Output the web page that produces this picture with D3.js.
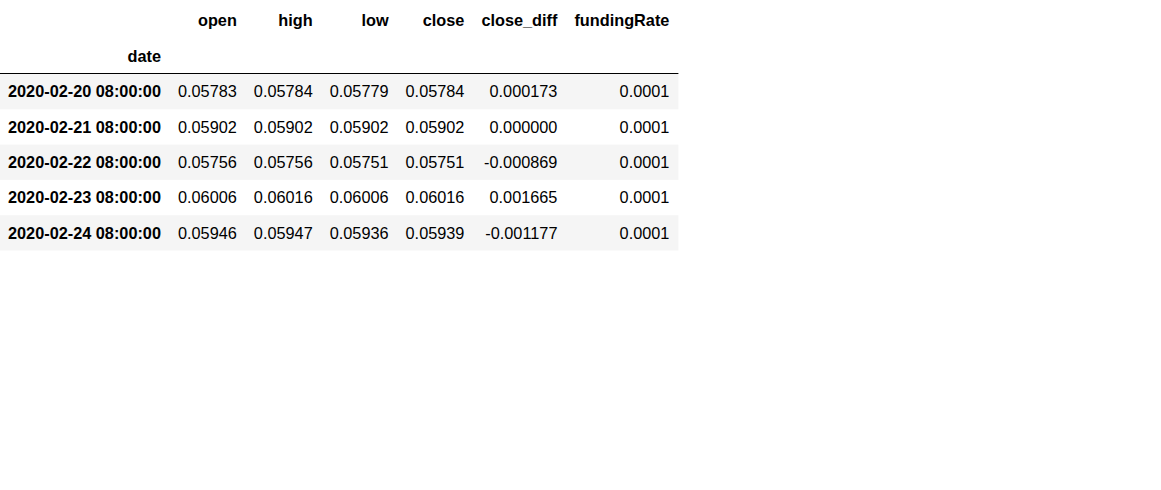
<!DOCTYPE html>
<html>
<head>
<meta charset="utf-8">
<script src="https://cdn.jsdelivr.net/npm/d3@7"></script>
<style>
  body { margin: 0; background: #fff; }
  text { font-family: "Liberation Sans", Arial, sans-serif; font-size: 16.3px; fill: #000; }
  .bold { font-weight: bold; }
</style>
</head>
<body>
<div id="chart-container"></div>
<script>
// --- Data ---
const columns = ["open", "high", "low", "close", "close_diff", "fundingRate"];
const indexName = "date";
const dates = ["2020-02-20 08:00:00", "2020-02-21 08:00:00", "2020-02-22 08:00:00",
               "2020-02-23 08:00:00", "2020-02-24 08:00:00"];
const open = [0.05783, 0.05902, 0.05756, 0.06006, 0.05946];
const high = [0.05784, 0.05902, 0.05756, 0.06016, 0.05947];
const low = [0.05779, 0.05902, 0.05751, 0.06006, 0.05936];
const close = [0.05784, 0.05902, 0.05751, 0.06016, 0.05939];
const closeDiff = [0.000173, 0.000000, -0.000869, 0.001665, -0.001177];
const fundingRate = [0.0001, 0.0001, 0.0001, 0.0001, 0.0001];

// --- Configuration ---
const width = 1161, height = 490;
const padLeft = 8, gap = 17;
const headerTop = 2, headerH = 74, rowH = 35.3;

const series = [open, high, low, close, closeDiff, fundingRate];
const formats = [".5f", ".5f", ".5f", ".5f", ".6f", ".4f"].map(f => d3.format(f));
const fmtCell = (c, v) => formats[c](v).replace("−", "-");

const svg = d3.select("#chart-container")
    .append("svg")
    .attr("width", width)
    .attr("height", height);

// measure text widths to lay the columns out like an html table
const probe = svg.append("g");
function textWidth(s, bold) {
    const t = probe.append("text").attr("class", bold ? "bold" : null).text(s);
    const w = t.node().getComputedTextLength();
    t.remove();
    return w;
}

const colWidths = [d3.max(dates.concat(indexName), d => textWidth(d, true))];
columns.forEach((c, i) => {
    colWidths.push(Math.max(textWidth(c, true), d3.max(series[i], v => textWidth(fmtCell(i, v), false))));
});
probe.remove();

// right edge of text per column
const rightEdges = [];
colWidths.forEach((w, i) => {
    rightEdges.push(i === 0 ? padLeft + w : rightEdges[i - 1] + gap + w);
});
const tableRight = rightEdges[rightEdges.length - 1] + 9;

// --- Scales ---
const yHead = d3.scaleBand().domain([0, 1]).range([headerTop, headerH]);
const yBody = d3.scaleBand().domain(d3.range(dates.length)).range([headerH, headerH + rowH * dates.length]);

// --- Row stripes ---
svg.append("g")
    .selectAll("rect")
    .data(d3.range(dates.length).filter(i => i % 2 === 0))
    .join("rect")
    .attr("x", 0)
    .attr("y", d => yBody(d))
    .attr("width", tableRight)
    .attr("height", yBody.bandwidth())
    .attr("fill", "#f5f5f5");

// --- Header ---
svg.append("g")
    .selectAll("text")
    .data(columns)
    .join("text")
    .attr("class", "bold")
    .attr("x", (d, i) => rightEdges[i + 1])
    .attr("y", yHead(0) + yHead.bandwidth() / 2)
    .attr("dy", "0.35em")
    .attr("text-anchor", "end")
    .text(d => d);

svg.append("text")
    .attr("class", "bold")
    .attr("x", rightEdges[0])
    .attr("y", yHead(1) + yHead.bandwidth() / 2)
    .attr("dy", "0.35em")
    .attr("text-anchor", "end")
    .text(indexName);

svg.append("line")
    .attr("x1", 0).attr("x2", tableRight)
    .attr("y1", headerH - 0.5).attr("y2", headerH - 0.5)
    .attr("stroke", "#000").attr("stroke-width", 1);

// --- Body ---
const rows = svg.append("g")
    .selectAll("g")
    .data(dates)
    .join("g")
    .attr("transform", (d, i) => `translate(0, ${yBody(i) + yBody.bandwidth() / 2})`);

rows.append("text")
    .attr("class", "bold")
    .attr("x", rightEdges[0])
    .attr("dy", "0.35em")
    .attr("text-anchor", "end")
    .text(d => d);

rows.selectAll("text.cell")
    .data((d, r) => series.map((s, c) => ({ c, v: s[r] })))
    .join("text")
    .attr("class", "cell")
    .attr("x", d => rightEdges[d.c + 1])
    .attr("dy", "0.35em")
    .attr("text-anchor", "end")
    .text(d => fmtCell(d.c, d.v));
</script>
</body>
</html>
